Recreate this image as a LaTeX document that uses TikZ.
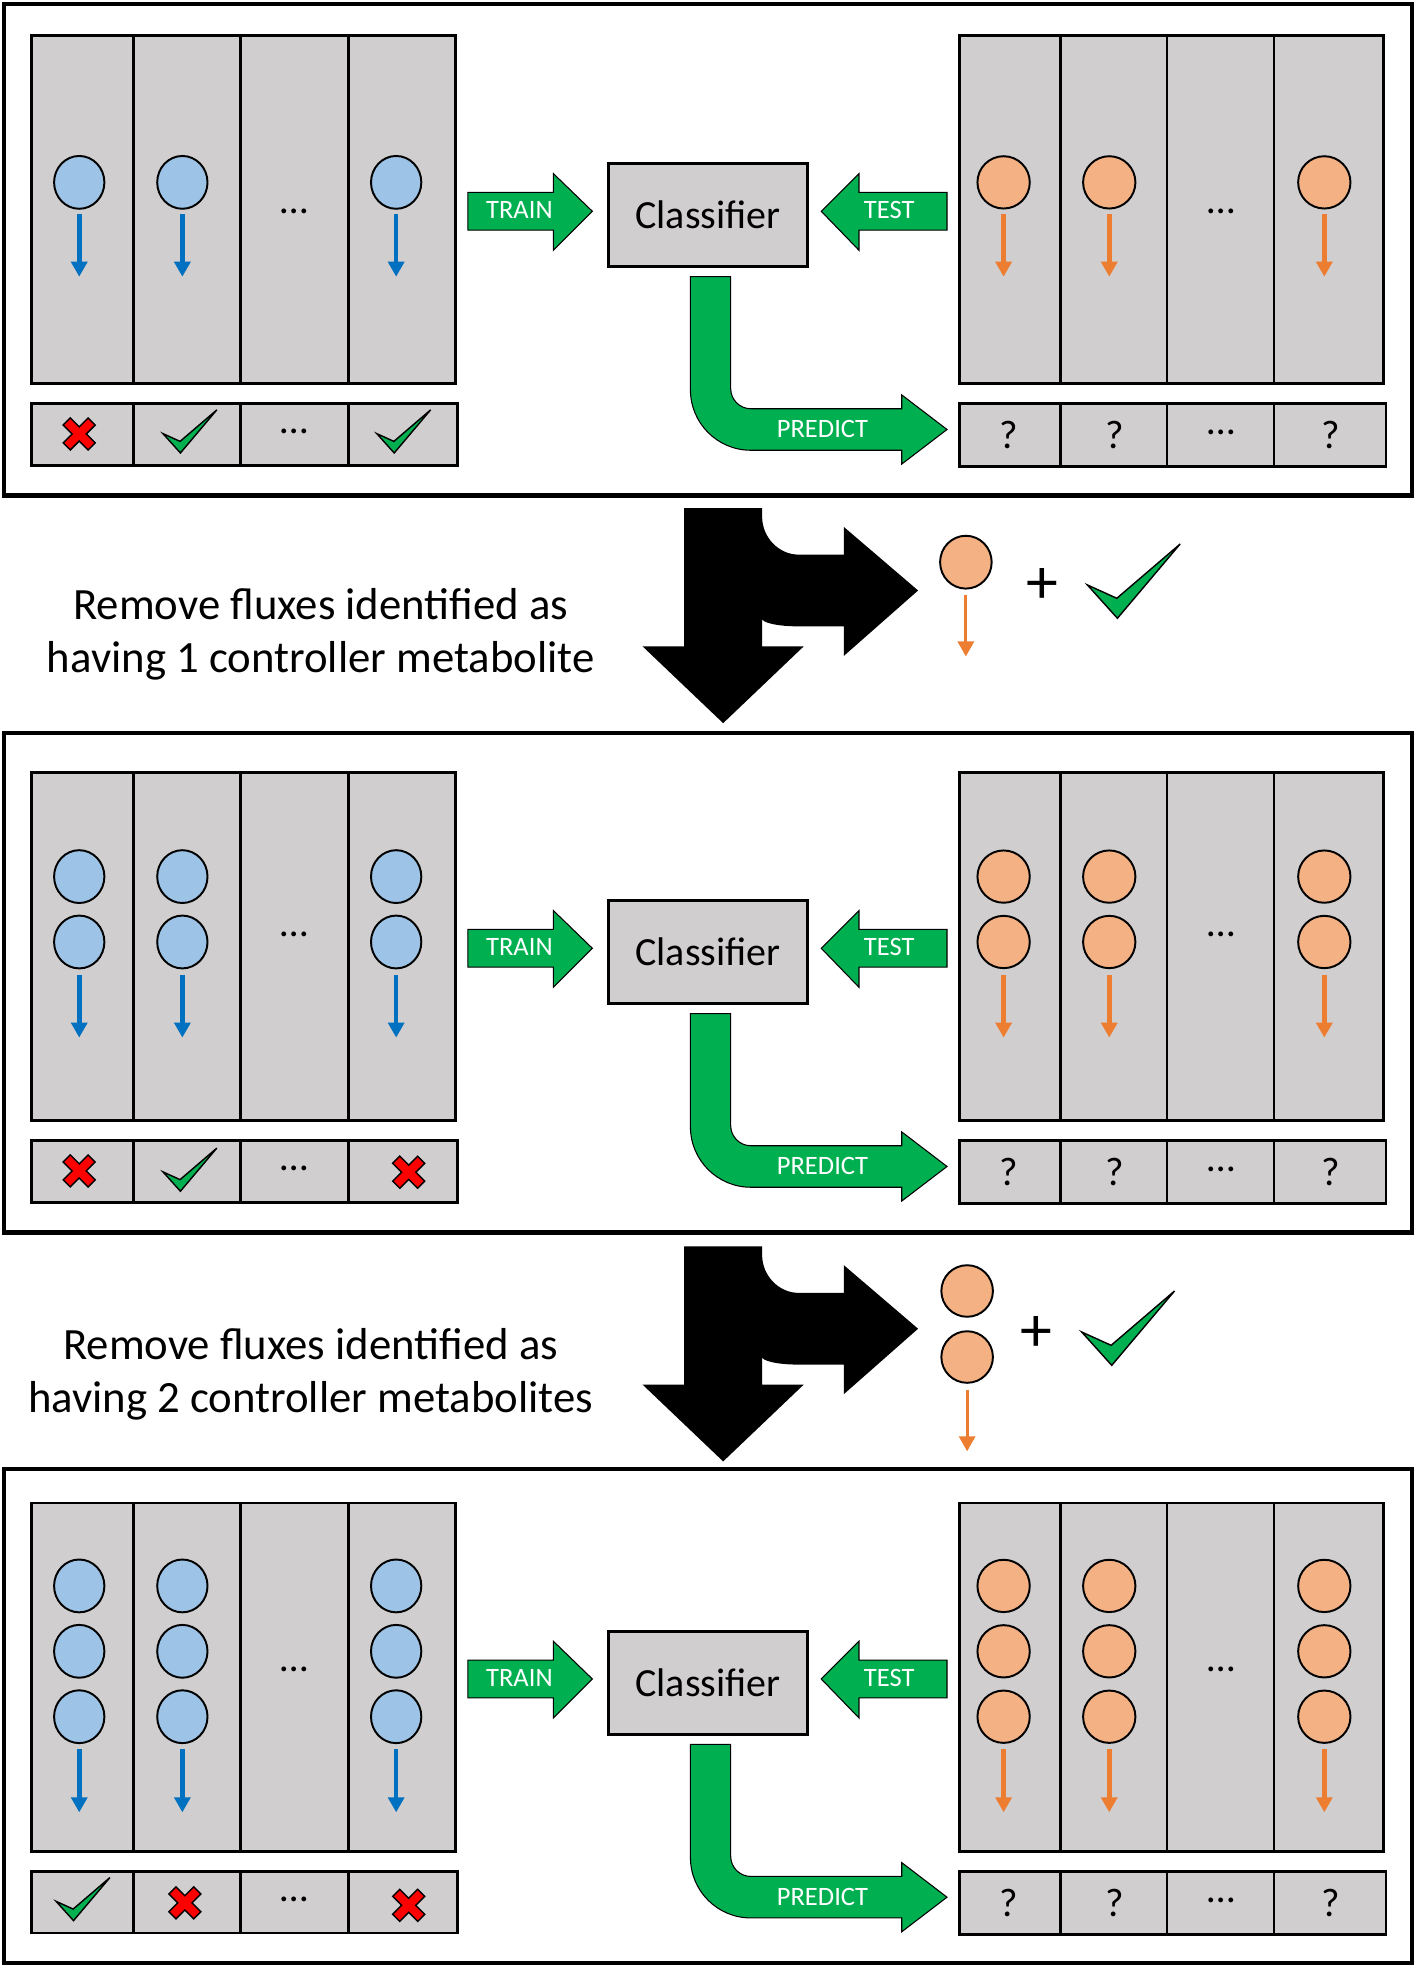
\documentclass[tikz,border=0pt]{standalone}
\usepackage{fontspec}
\setmainfont{Carlito}
\usetikzlibrary{arrows.meta,calc}
\definecolor{cellgray}{HTML}{D0CECE}
\definecolor{dotblue}{HTML}{9DC3E6}
\definecolor{dotorange}{HTML}{F4B183}
\definecolor{arrowblue}{HTML}{0070C0}
\definecolor{arroworange}{HTML}{ED7D31}
\definecolor{arrowgreen}{HTML}{00B050}
\definecolor{crossred}{HTML}{FF0000}

\begin{document}
\begin{tikzpicture}[x=0.025cm, y=-0.025cm,
  panel/.style={draw, line width=2.4pt},
  cell/.style={draw, fill=cellgray, line width=1.5pt},
  bluedot/.style={draw, fill=dotblue, line width=1.1pt},
  orangedot/.style={draw, fill=dotorange, line width=1.1pt},
  bluearrow/.style={draw=arrowblue, line width=2.6pt, -{Triangle[width=9pt,length=8.5pt]}},
  orangearrow/.style={draw=arroworange, line width=2.6pt, -{Triangle[width=9pt,length=8.5pt]}},
  greenarrow/.style={draw, fill=arrowgreen, line width=0.6pt, line join=miter},
  clfbox/.style={draw, fill=cellgray, line width=1.5pt, minimum width=3.95cm, minimum height=2.05cm, font=\fontsize{22.6}{27}\selectfont},
  celltext/.style={font=\fontsize{22.6}{27}\selectfont},
  arrowtext/.style={text=white, font=\fontsize{15}{18}\selectfont},
  steptext/.style={align=center, font=\fontsize{25.3}{30}\selectfont},
  tick/.pic={\filldraw[fill=arrowgreen, line width=0.8pt, line join=miter]
    (-36.9,3.1) -- (-13,29.6) -- (36.9,-29.5) -- (-13.5,13.7) -- cycle;},
  cross/.pic={\filldraw[fill=crossred, line width=0.8pt, line join=miter, rotate=45]
    (4,14) -- (4,4) -- (14,4) -- (14,-4) -- (4,-4) -- (4,-14) -- (-4,-14) -- (-4,-4)
    -- (-14,-4) -- (-14,4) -- (-4,4) -- (-4,14) -- cycle;}]
\useasboundingbox (0,0) rectangle (1126,1568);

% Outer frames
\draw[panel] (3,3) rectangle (1123,394);
\draw[panel] (3,583) rectangle (1123,980);
\draw[panel] (3,1168) rectangle (1123,1561);

% One classifier round per frame
\foreach \o/\cys/\ay/\dy [count=\i] in {0/{145}/170/168, 586/{111,163}/189/157, 1167/{94,146,198}/224/160} {
\begin{scope}[shift={(0,\o)}]
  % training and test fluxes
  \draw[cell] (25,28) rectangle (362,305);
  \draw[cell] (106,28) -- (106,305) (191,28) -- (191,305) (277,28) -- (277,305);
  \draw[cell] (763,28) rectangle (1100,305);
  \draw[cell] (843,28) -- (843,305) (928,28) -- (928,305) (1013,28) -- (1013,305);
  % label rows
  \draw[cell] (25,321) rectangle (364,370);
  \draw[cell] (106,321) -- (106,370) (191,321) -- (191,370) (277,321) -- (277,370);
  \draw[cell] (763,321) rectangle (1102,371);
  \draw[cell] (843,321) -- (843,371) (928,321) -- (928,371) (1013,321) -- (1013,371);

  % metabolites and fluxes
  \foreach \cx in {63,145,315} {
    \foreach \cy in \cys \filldraw[bluedot] (\cx,\cy) ellipse (20 and 21);
    \draw[bluearrow] (\cx,\ay) -- (\cx,\ay+50);
  }
  \foreach \cx in {798,882,1053} {
    \foreach \cy in \cys \filldraw[orangedot] (\cx,\cy) ellipse (20.8 and 20.8);
    \draw[orangearrow] (\cx,\ay) -- (\cx,\ay+50);
  }
  \node[celltext] (ltrain\i) at (234,\dy) {\dots};
  \node[celltext] (ltest\i) at (971,\dy) {\dots};
  \node[celltext] (lrow\i) at (234,343) {\dots};
  \node[celltext] (q\i a) at (802,346) {?};
  \node[celltext] (q\i b) at (886,346) {?};
  \node[celltext] (q\i c) at (971,344) {\dots};
  \node[celltext] (q\i d) at (1058,346) {?};

  % classifier and block arrows
  \node[clfbox] (clf\i) at (563,171) {Classifier};
  \filldraw[greenarrow] (372,153) -- (440,153) -- (440,138) -- (471,168) -- (440,199) -- (440,183) -- (372,183) -- cycle;
  \node[arrowtext] (train\i) at (413,167) {TRAIN};
  \filldraw[greenarrow] (753,153) -- (683,153) -- (683,138) -- (653,168) -- (683,199) -- (683,183) -- (753,183) -- cycle;
  \node[arrowtext] (test\i) at (707,167) {TEST};
  \filldraw[greenarrow] (549,220) -- (581,220) -- (581,309) .. controls (581,317.8) and (588.2,325) .. (597,325)
    -- (717,325) -- (717,314) -- (753,341.5) -- (717,369) -- (717,358) -- (597,358)
    .. controls (570.5,358) and (549,336.5) .. (549,310) -- cycle;
  \node[arrowtext] (predict\i) at (654,341) {PREDICT};
\end{scope}
}

% Known labels
\pic at (63,345) {cross};
\pic[scale=0.58] at (151,343) {tick};
\pic[scale=0.58] at (321,343) {tick};
\pic at (63,931) {cross};
\pic[scale=0.58] at (151,930) {tick};
\pic at (325,932) {cross};
\pic[scale=0.58] at (66,1510) {tick};
\pic at (147,1513) {cross};
\pic at (325,1515) {cross};

% Removal steps
\foreach \s in {0,587} {
  \fill[shift={(0,\s)}] (544,404) -- (606,404) -- (606,411) .. controls (606,427) and (619,441) .. (635,441)
    -- (671,441) -- (671,419) -- (730,469.5) -- (671,521.5) -- (671,498) -- (634,498)
    .. controls (618,498) and (606,495) .. (606,492) -- (606,514) -- (639,514) -- (575,575)
    -- (511,514) -- (544,514) -- cycle;
}
\node[steptext] (step1) at (255,504) {Remove fluxes identified as\\having 1 controller metabolite};
\node[steptext] (step2) at (247,1093) {Remove fluxes identified as\\having 2 controller metabolites};

% Removed fluxes
\filldraw[orangedot] (768,447) ellipse (20.5 and 21);
\draw[orangearrow, line width=1.8pt] (768,473) -- (768,522);
\node[font=\fontsize{36}{40}\selectfont] (plus1) at (829,466) {+};
\pic at (901.5,462) {tick};
\filldraw[orangedot] (769,1026.5) ellipse (20.5 and 20.5);
\filldraw[orangedot] (769,1079) ellipse (20.5 and 20.5);
\draw[orangearrow, line width=1.8pt] (769,1105) -- (769,1154);
\node[font=\fontsize{36}{40}\selectfont] (plus2) at (824,1061) {+};
\pic at (897,1056) {tick};
\end{tikzpicture}
\end{document}
